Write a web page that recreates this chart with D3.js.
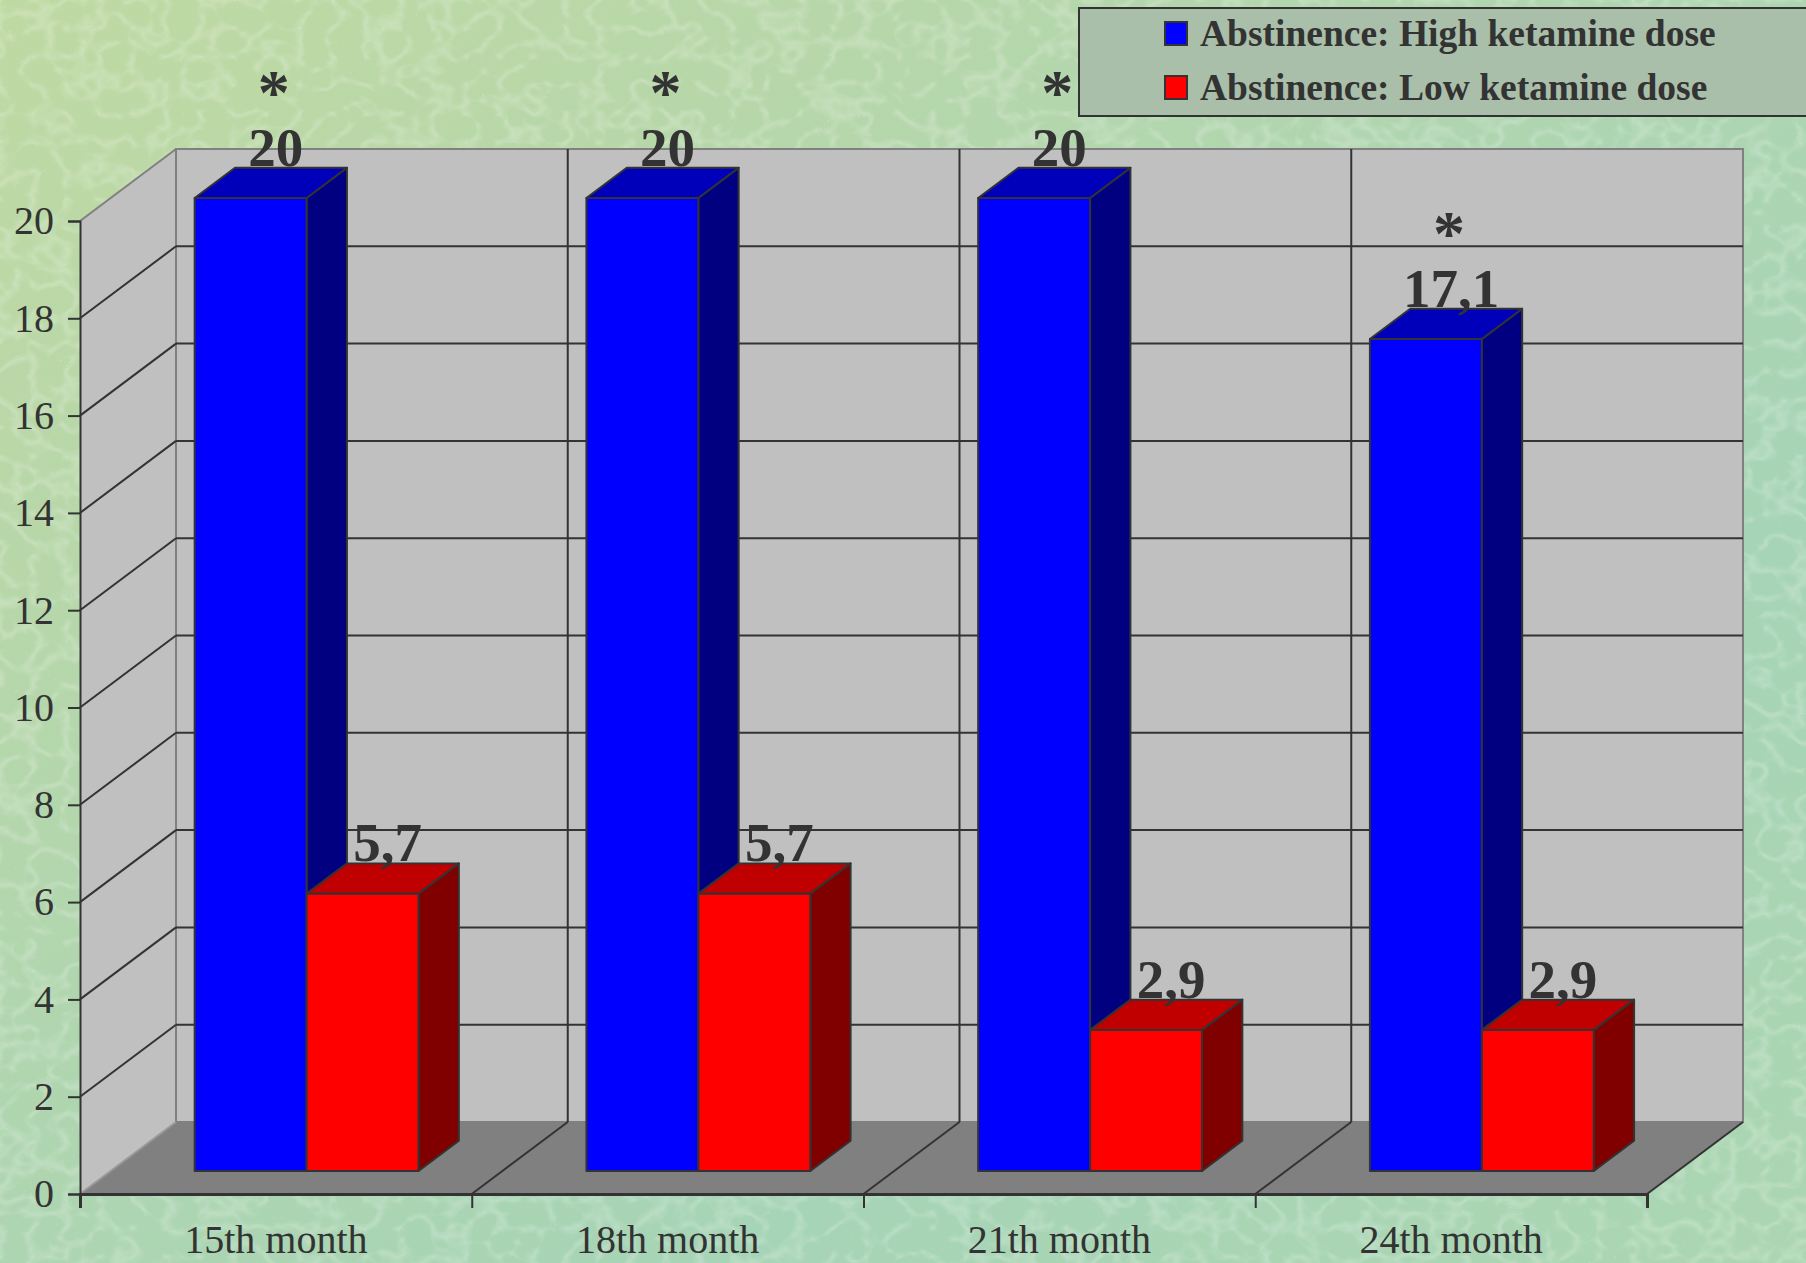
<!DOCTYPE html>
<html lang="en">
	<head>
		<meta charset="utf-8">
		<title>Abstinence by ketamine dose</title>
		<script type="text/javascript" src="https://cdnjs.cloudflare.com/ajax/libs/d3/7.8.5/d3.min.js"></script>
		<style type="text/css">
			body { margin: 0; padding: 0; overflow: hidden; }
			svg { display: block; }
			text { font-family: "Liberation Serif", "Times New Roman", serif; fill: #333; }
		</style>
	</head>
	<body>
		<script type="text/javascript">

			//Data
			var categories = ["15th month", "18th month", "21th month", "24th month"];
			var seriesNames = ["Abstinence: High ketamine dose", "Abstinence: Low ketamine dose"];
			var highDose = [20, 20, 20, 17.1];
			var lowDose = [5.7, 5.7, 2.9, 2.9];
			var significant = [true, true, true, true];   //asterisk over the high dose bar
			var yTicks = [0, 2, 4, 6, 8, 10, 12, 14, 16, 18, 20];

			//Size and 3D depth
			var w = 1806;
			var h = 1263;
			var padLeft = 80, padRight = 1647, plotTop = 221, plotBottom = 1194;
			var depthX = 96, depthY = 72;      //offset of back wall
			var zFront = 0.32, zBack = 0.74;   //bar depth, as share of the floor depth

			var colors = {
				high: { front: "#0000ff", top: "#0000bb", side: "#000080" },
				low:  { front: "#ff0000", top: "#c00000", side: "#800000" }
			};

			var fmt = d => String(d).replace(".", ",");

			//Scales
			var yScale = d3.scaleLinear().domain([0, 20]).range([plotBottom, plotTop]);
			var x0 = d3.scaleBand().domain(categories).range([padLeft, padRight]);
			var x1 = d3.scaleBand().domain(["high", "low"]).range([0, x0.bandwidth()]).paddingOuter(0.75);
			var edgeScale = d3.scaleLinear().domain([0, categories.length]).range([padLeft, padRight]);

			//project a point with depth z (0 = front, 1 = back wall)
			var px = (x, z) => x + z * depthX;
			var py = (v, z) => yScale(v) - z * depthY;

			var svg = d3.select("body")
						.append("svg")
						.attr("width", w)
						.attr("height", h);

			//Background texture
			var defs = svg.append("defs");
			var grad = defs.append("linearGradient")
						.attr("id", "bg")
						.attr("x1", 0).attr("y1", 0).attr("x2", 1).attr("y2", 1);
			grad.append("stop").attr("offset", "0%").attr("stop-color", "#bfd9a2");
			grad.append("stop").attr("offset", "35%").attr("stop-color", "#b3d6ad");
			grad.append("stop").attr("offset", "70%").attr("stop-color", "#a6d4b6");
			grad.append("stop").attr("offset", "100%").attr("stop-color", "#acd6b2");

			var filt = defs.append("filter").attr("id", "texture")
						.attr("x", 0).attr("y", 0).attr("width", "100%").attr("height", "100%");
			filt.append("feTurbulence")
				.attr("type", "turbulence")
				.attr("baseFrequency", "0.03 0.035")
				.attr("numOctaves", 2)
				.attr("seed", 7);
			filt.append("feColorMatrix")
				.attr("type", "matrix")
				.attr("values", "0 0 0 0 1  0 0 0 0 1  0 0 0 0 1  -2.2 0 0 0 0.55");

			svg.append("rect").attr("width", w).attr("height", h).attr("fill", "url(#bg)");
			svg.append("rect").attr("width", w).attr("height", h)
				.attr("filter", "url(#texture)").attr("opacity", 0.4);

			//Walls
			var poly = pts => pts.map(p => p.join(",")).join(" ");

			svg.append("polygon")  //side wall
				.attr("points", poly([[px(padLeft, 0), py(20, 0)], [px(padLeft, 1), py(20, 1)], [px(padLeft, 1), py(0, 1)], [px(padLeft, 0), py(0, 0)]]))
				.attr("fill", "#c0c0c0");

			svg.append("polygon")  //back wall
				.attr("points", poly([[px(padLeft, 1), py(20, 1)], [px(padRight, 1), py(20, 1)], [px(padRight, 1), py(0, 1)], [px(padLeft, 1), py(0, 1)]]))
				.attr("fill", "#c0c0c0")
				.attr("stroke", "#808080")
				.attr("stroke-width", 2);

			svg.append("polygon")  //floor
				.attr("points", poly([[px(padLeft, 0), py(0, 0)], [px(padLeft, 1), py(0, 1)], [px(padRight, 1), py(0, 1)], [px(padRight, 0), py(0, 0)]]))
				.attr("fill", "#808080");

			svg.append("line")  //side wall top edge
				.attr("x1", px(padLeft, 0)).attr("y1", py(20, 0))
				.attr("x2", px(padLeft, 1)).attr("y2", py(20, 1))
				.attr("stroke", "#808080").attr("stroke-width", 2);

			svg.append("line")  //floor left edge
				.attr("x1", px(padLeft, 0)).attr("y1", py(0, 0))
				.attr("x2", px(padLeft, 1)).attr("y2", py(0, 1))
				.attr("stroke", "#999").attr("stroke-width", 2);

			svg.append("line")  //floor right edge
				.attr("x1", px(padRight, 0)).attr("y1", py(0, 0))
				.attr("x2", px(padRight, 1)).attr("y2", py(0, 1))
				.attr("stroke", "#333").attr("stroke-width", 2);

			//Gridlines
			var grid = yTicks.filter(d => d > 0 && d < 20);
			svg.selectAll("line.gridBack")
				.data(grid)
				.enter()
				.append("line")
				.attr("class", "gridBack")
				.attr("x1", px(padLeft, 1)).attr("x2", px(padRight, 1))
				.attr("y1", d => py(d, 1)).attr("y2", d => py(d, 1))
				.attr("stroke", "#333").attr("stroke-width", 2);

			svg.selectAll("line.gridSide")
				.data(grid)
				.enter()
				.append("line")
				.attr("class", "gridSide")
				.attr("x1", px(padLeft, 0)).attr("x2", px(padLeft, 1))
				.attr("y1", d => py(d, 0)).attr("y2", d => py(d, 1))
				.attr("stroke", "#333").attr("stroke-width", 2);

			//Category dividers on back wall and floor
			var inner = d3.range(1, categories.length);
			svg.selectAll("line.divBack")
				.data(inner)
				.enter()
				.append("line")
				.attr("class", "divBack")
				.attr("x1", d => px(edgeScale(d), 1)).attr("x2", d => px(edgeScale(d), 1))
				.attr("y1", py(20, 1)).attr("y2", py(0, 1))
				.attr("stroke", "#333").attr("stroke-width", 2);

			svg.selectAll("line.divFloor")
				.data(inner)
				.enter()
				.append("line")
				.attr("class", "divFloor")
				.attr("x1", d => px(edgeScale(d), 0)).attr("x2", d => px(edgeScale(d), 1))
				.attr("y1", py(0, 0)).attr("y2", py(0, 1))
				.attr("stroke", "#333").attr("stroke-width", 2);

			//Bars
			var bars = [];
			categories.forEach((c, i) => {
				bars.push({ cat: c, key: "high", value: highDose[i], star: significant[i] });
				bars.push({ cat: c, key: "low", value: lowDose[i], star: false });
			});

			var barG = svg.selectAll("g.bar")
				.data(bars)
				.enter()
				.append("g")
				.attr("class", "bar")
				.attr("stroke", "#333")
				.attr("stroke-width", 2)
				.attr("stroke-linejoin", "round");

			var xa = d => x0(d.cat) + x1(d.key);
			var xb = d => x0(d.cat) + x1(d.key) + x1.bandwidth();

			//side face
			barG.append("polygon")
				.attr("fill", d => colors[d.key].side)
				.attr("points", d => poly([
					[px(xb(d), zFront), py(d.value, zFront)], [px(xb(d), zBack), py(d.value, zBack)],
					[px(xb(d), zBack), py(0, zBack)], [px(xb(d), zFront), py(0, zFront)]]));

			//top face
			barG.append("polygon")
				.attr("fill", d => colors[d.key].top)
				.attr("points", d => poly([
					[px(xa(d), zFront), py(d.value, zFront)], [px(xa(d), zBack), py(d.value, zBack)],
					[px(xb(d), zBack), py(d.value, zBack)], [px(xb(d), zFront), py(d.value, zFront)]]));

			//front face
			barG.append("rect")
				.attr("fill", d => colors[d.key].front)
				.attr("x", d => px(xa(d), zFront))
				.attr("y", d => py(d.value, zFront))
				.attr("width", x1.bandwidth())
				.attr("height", d => yScale(0) - yScale(d.value));

			//Value labels
			var zMid = (zFront + zBack) / 2;
			var labelX = d => px(xa(d) + x1.bandwidth() / 2, zMid) + 5;
			var labelY = d => py(d.value, zBack) - 2;

			svg.selectAll("text.value")
				.data(bars)
				.enter()
				.append("text")
				.attr("class", "value")
				.attr("x", labelX)
				.attr("y", labelY)
				.attr("text-anchor", "middle")
				.attr("font-size", 55)
				.attr("font-weight", "bold")
				.text(d => fmt(d.value));

			svg.selectAll("text.star")
				.data(bars.filter(d => d.star))
				.enter()
				.append("text")
				.attr("class", "star")
				.attr("x", d => labelX(d) - 2)
				.attr("y", d => labelY(d) - 52)
				.attr("text-anchor", "middle")
				.attr("font-size", 64)
				.attr("font-weight", "bold")
				.text("*");

			//Y axis
			var yAxis = d3.axisLeft(yScale)
						.tickValues(yTicks)
						.tickSize(12)
						.tickPadding(14);

			var yG = svg.append("g")
				.attr("transform", `translate(${padLeft},0)`)
				.call(yAxis)
				.attr("font-family", null);
			yG.select(".domain").attr("stroke", "#333").attr("stroke-width", 2);
			yG.selectAll(".tick line").attr("stroke", "#333").attr("stroke-width", 2);
			yG.selectAll(".tick text")
				.attr("font-size", 40)
				.attr("fill", "#333");

			//X axis: ticks on category edges, labels at centers
			var xAxis = d3.axisBottom(edgeScale)
						.tickValues(d3.range(0, categories.length + 1))
						.tickFormat("")
						.tickSize(14);

			var xG = svg.append("g")
				.attr("transform", `translate(0,${plotBottom})`)
				.call(xAxis);
			xG.select(".domain").attr("stroke", "#333").attr("stroke-width", 3);
			xG.selectAll(".tick line").attr("stroke", "#333").attr("stroke-width", 2);

			svg.selectAll("text.cat")
				.data(categories)
				.enter()
				.append("text")
				.attr("class", "cat")
				.attr("x", d => x0(d) + x0.bandwidth() / 2)
				.attr("y", 1253)
				.attr("text-anchor", "middle")
				.attr("font-size", 40)
				.text(d => d);

			//Legend
			var legend = svg.append("g").attr("transform", "translate(1079,8)");
			legend.append("rect")
				.attr("width", 740)
				.attr("height", 108)
				.attr("fill", "#a9bfa9")
				.attr("stroke", "#333")
				.attr("stroke-width", 2);

			var items = legend.selectAll("g.item")
				.data(seriesNames)
				.enter()
				.append("g")
				.attr("class", "item")
				.attr("transform", (d, i) => `translate(86,${14 + i * 54})`);

			items.append("rect")
				.attr("width", 22)
				.attr("height", 23)
				.attr("fill", (d, i) => i === 0 ? colors.high.front : colors.low.front)
				.attr("stroke", "#333")
				.attr("stroke-width", 2);

			items.append("text")
				.attr("x", 35)
				.attr("y", 24)
				.attr("font-size", 37.5)
				.attr("font-weight", "bold")
				.text(d => d);

		</script>
	</body>
</html>
